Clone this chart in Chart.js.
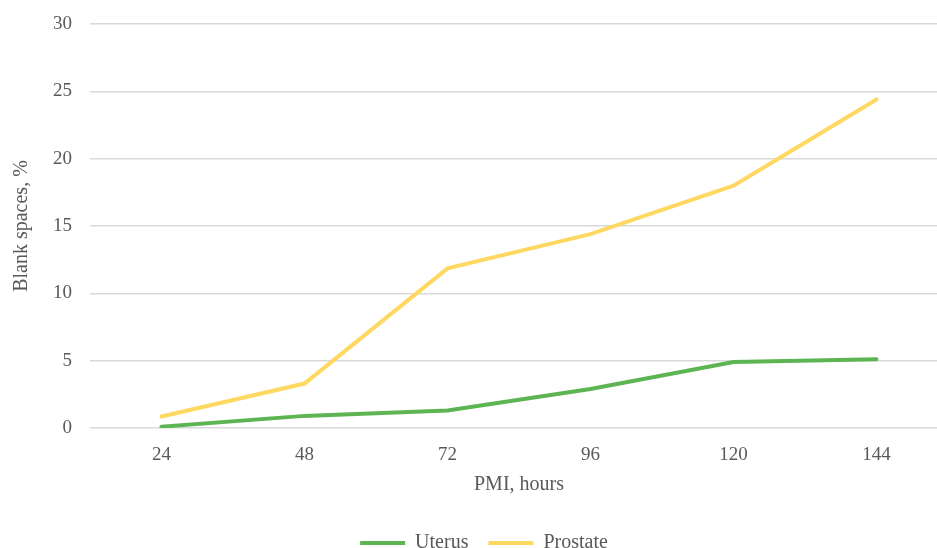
<!DOCTYPE html>
<html>
<head>
<meta charset="utf-8">
<script src="https://cdn.jsdelivr.net/npm/chart.js@4"></script>
<style>
    html, body { margin: 0; padding: 0; background: #fff; overflow: hidden; }
    #wrap { width: 948px; height: 563px; position: relative; }
</style>
</head>
<body>
<div id="wrap"><canvas id="chart"></canvas></div>
<script>
// Data
const hours = ['24', '48', '72', '96', '120', '144'];
const uterus = [0.1, 0.9, 1.3, 2.9, 4.9, 5.1];
const prostate = [0.85, 3.3, 11.85, 14.4, 18.0, 24.4];
const yTicks = [0, 5, 10, 15, 20, 25, 30];

const GRAY = '#595959';
const FONT = "'Liberation Serif', 'Times New Roman', serif";

// legend in the reference sits a bit right of the canvas centre
const legendShift = {
    id: 'legendShift',
    afterLayout(chart) {
        if (!chart.legend) return;
        chart.legend.left += 10;
        chart.legend.right += 10;
    }
};

document.addEventListener('DOMContentLoaded', () => {
    const ctx = document.getElementById('chart').getContext('2d');

    new Chart(ctx, {
        type: 'line',
        data: {
            labels: hours,
            datasets: [{
                label: 'Uterus',
                data: uterus,
                borderColor: '#5cb552',
                backgroundColor: '#5cb552',
                borderWidth: 4,
                borderCapStyle: 'round',
                pointRadius: 0,
                tension: 0
            }, {
                label: 'Prostate',
                data: prostate,
                borderColor: '#ffd861',
                backgroundColor: '#ffd861',
                borderWidth: 4,
                borderCapStyle: 'round',
                pointRadius: 0,
                tension: 0
            }]
        },
        plugins: [legendShift],
        options: {
            responsive: true,
            maintainAspectRatio: false,
            animation: false,
            layout: { padding: { top: 24, left: 0, right: 0, bottom: 0 } },
            plugins: {
                tooltip: { enabled: false },
                legend: {
                    position: 'bottom',
                    labels: {
                        usePointStyle: true,
                        pointStyle: 'line',
                        pointStyleWidth: 45,
                        padding: 20,
                        color: GRAY,
                        font: { family: FONT, size: 20 }
                    }
                }
            },
            scales: {
                x: {
                    offset: true,
                    grid: { display: false, drawTicks: false },
                    border: { display: false },
                    ticks: {
                        color: GRAY,
                        padding: 16,
                        font: { family: FONT, size: 19 }
                    },
                    title: {
                        display: true,
                        text: 'PMI, hours',
                        color: GRAY,
                        padding: { top: 4, bottom: 16 },
                        font: { family: FONT, size: 20 }
                    },
                    afterFit: (scale) => { scale.height = 85; }
                },
                y: {
                    min: 0,
                    max: 30,
                    afterBuildTicks: (scale) => {
                        scale.ticks = yTicks.map(v => ({ value: v }));
                    },
                    grid: { color: '#d9d9d9', lineWidth: 1.5, drawTicks: false },
                    border: { display: false },
                    ticks: {
                        color: GRAY,
                        padding: 18,
                        font: { family: FONT, size: 19 }
                    },
                    title: {
                        display: true,
                        text: 'Blank spaces, %',
                        color: GRAY,
                        padding: { top: 10, bottom: 4 },
                        font: { family: FONT, size: 20 }
                    },
                    afterFit: (scale) => {
                        scale.width = 90;
                        scale.paddingTop = 0;
                        scale.paddingBottom = 0;
                    }
                }
            }
        }
    });
});
</script>
</body>
</html>
